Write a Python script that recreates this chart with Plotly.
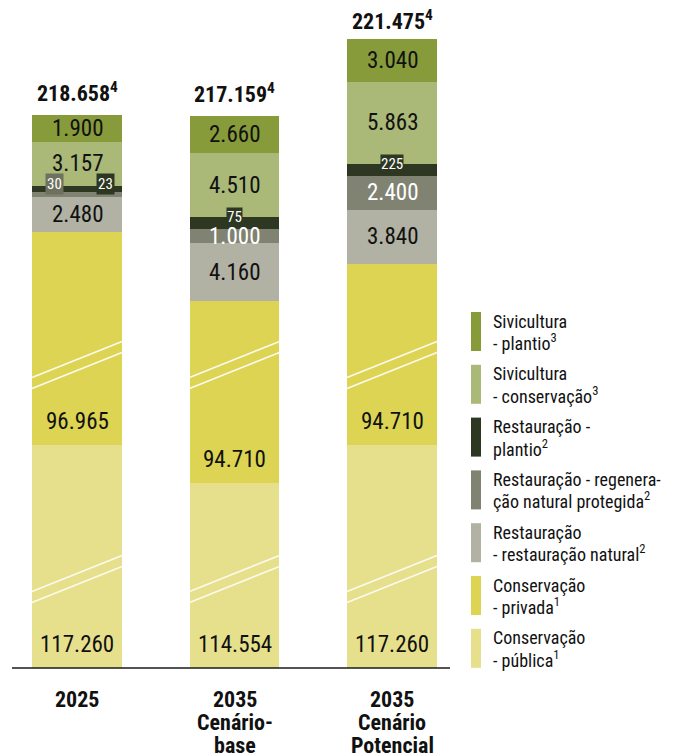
import plotly.graph_objects as go

# dados (hectares)
cenarios = ["2025", "2035 base", "2035 potencial"]
rotulos_cenario = [["2025"], ["2035", "Cenário-", "base"], ["2035", "Cenário", "Potencial"]]
publica = [117260, 114554, 117260]
privada = [96965, 94710, 94710]
rest_natural = [2480, 4160, 3840]
regeneracao = [30, 1000, 2400]
rest_plantio = [23, 75, 225]
silv_conservacao = [3157, 4510, 5863]
silv_plantio = [1900, 2660, 3040]
totais = [218658, 217159, 221475]

nomes_legenda = [
    ["Sivicultura", "- plantio<sup>3</sup>"],
    ["Sivicultura", "- conservação<sup>3</sup>"],
    ["Restauração -", "plantio<sup>2</sup>"],
    ["Restauração - regenera-", "ção natural protegida<sup>2</sup>"],
    ["Restauração", "- restauração natural<sup>2</sup>"],
    ["Conservação", "- privada<sup>1</sup>"],
    ["Conservação", "- pública<sup>1</sup>"],
]

W, H = 673, 753
OFF = 8           # margem da página
FONT = "Roboto Condensed, Liberation Sans Narrow, Roboto, sans-serif"
PX = 0.014        # pixels por hectare exibido
BASE = 668 - OFF  # linha de base (px)
# eixo quebrado: parte retirada das duas grandes categorias
CORTE_PUBLICA = 101330
CORTE_PRIVADA = 81750


def fmt(v):
    return f"{v:,}".replace(",", ".")


def exibir(v, corte=0):
    v = v - corte
    if v < 50:
        return 400
    if v < 500:
        return 900
    return v


def py(p):
    return 1 - (p - OFF) / H


def px_(p):
    return (p - OFF) / W


# (nome, valores, corte, cor, cor do texto) de baixo para cima
series = [
    ("pub", publica, CORTE_PUBLICA, "#e6e08d", "#111111"),
    ("priv", privada, CORTE_PRIVADA, "#ddd453", "#111111"),
    ("nat", rest_natural, 0, "#b1b1a4", "#111111"),
    ("regen", regeneracao, 0, "#808371", "#ffffff"),
    ("rplant", rest_plantio, 0, "#2d3721", "#ffffff"),
    ("scons", silv_conservacao, 0, "#aab878", "#111111"),
    ("splant", silv_plantio, 0, "#879b3b", "#111111"),
]

fig = go.Figure()
annotations = []
shapes = []
base = [0, 0, 0]
for nome, vals, corte, cor, cor_txt in series:
    alt = [exibir(v, corte) for v in vals]
    fig.add_trace(go.Bar(x=cenarios, y=alt, base=base[:], marker=dict(color=cor, line=dict(width=0)),
                         width=0.571, hoverinfo="skip", showlegend=False))
    for i, v in enumerate(vals):
        b, h = base[i], alt[i]
        if nome in ("pub", "priv"):
            annotations.append(dict(x=i, y=b + 1650, text=fmt(v), showarrow=False,
                                    font=dict(size=23, color=cor_txt, family=FONT), yanchor="middle"))
        elif nome == "rplant":
            if i == 0:
                # rótulos laterais para valores minúsculos
                annotations.append(dict(x=i, y=b + h / 2, text=fmt(regeneracao[0]), showarrow=False,
                                        xshift=-23, yshift=5, bgcolor="#6e715e", borderpad=1,
                                        font=dict(size=15, color="#ffffff", family=FONT)))
                annotations.append(dict(x=i, y=b + h / 2, text=fmt(v), showarrow=False,
                                        xshift=28, yshift=5, bgcolor=cor, borderpad=1,
                                        font=dict(size=15, color="#ffffff", family=FONT)))
            else:
                annotations.append(dict(x=i, y=b + h, text=fmt(v), showarrow=False,
                                        bgcolor=cor, borderpad=0,
                                        font=dict(size=15, color="#ffffff", family=FONT)))
        elif nome == "regen" and i == 0:
            pass
        else:
            annotations.append(dict(x=i, y=b + h / 2, text=fmt(v), showarrow=False,
                                    font=dict(size=23, color=cor_txt, family=FONT)))
        base[i] = b + h

for i, t in enumerate(totais):
    annotations.append(dict(x=i, y=base[i], text=f"<b>{fmt(t)}<sup>4</sup></b>", showarrow=False,
                            yanchor="bottom", yshift=7 if i < 2 else 3,
                            font=dict(size=22, color="#111111", family=FONT)))

# marcas de quebra do eixo (duas linhas paralelas em cada barra)
for i in range(3):
    for centro in (365 - OFF, 579 - OFF):
        for d in (-5.5, 5.5):
            shapes.append(dict(type="line", xref="x", yref="y",
                               x0=i - 0.2857, x1=i + 0.2857,
                               y0=(BASE - (centro + d + 18)) / PX, y1=(BASE - (centro + d - 18)) / PX,
                               line=dict(color="#fbfaf0", width=1.6)))

# linha de base
shapes.append(dict(type="line", xref="paper", yref="paper", x0=px_(12), x1=px_(450), y0=py(668), y1=py(668),
                   line=dict(color="#1a1a1a", width=1.6)))

# rótulos das categorias
for i, linhas in enumerate(rotulos_cenario):
    for j, l in enumerate(linhas):
        annotations.append(dict(x=i, xref="x", yref="paper", y=py(699 + 23 * j), text=f"<b>{l}</b>",
                                showarrow=False, yanchor="middle",
                                font=dict(size=22, color="#111111", family=FONT)))

# legenda manual
cores_legenda = [s[3] for s in series][::-1]
for k, (linhas, cor) in enumerate(zip(nomes_legenda, cores_legenda)):
    top = 312 + k * 52.8
    shapes.append(dict(type="rect", xref="paper", yref="paper", x0=px_(471), x1=px_(481),
                       y0=py(top + 39), y1=py(top), fillcolor=cor, line=dict(width=0)))
    for j, l in enumerate(linhas):
        annotations.append(dict(xref="paper", yref="paper", x=px_(491), y=py(top + 9 + 21 * j), text=l,
                                showarrow=False, xanchor="left", yanchor="middle",
                                font=dict(size=18, color="#111111", family=FONT)))

fig.update_layout(
    width=W, height=H,
    margin=dict(l=0, r=0, t=0, b=0),
    barmode="stack",
    plot_bgcolor="white", paper_bgcolor="white",
    xaxis=dict(type="category", range=[-(77 - OFF) / 157.5, (W - 77 + OFF) / 157.5],
               showticklabels=False, showgrid=False, zeroline=False, showline=False),
    yaxis=dict(range=[-(H - BASE) / PX, BASE / PX], showticklabels=False, showgrid=False, zeroline=False),
    annotations=annotations,
    shapes=shapes,
    font=dict(family=FONT),
)

fig.write_html("out.html")
